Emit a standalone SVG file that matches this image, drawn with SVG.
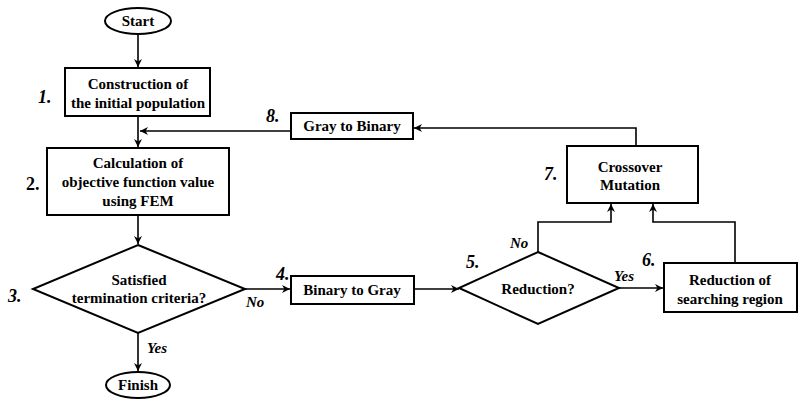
<svg xmlns="http://www.w3.org/2000/svg" width="799" height="399" viewBox="0 0 799 399" font-family="Liberation Serif, DejaVu Serif, serif" font-weight="bold">
<defs>
<marker id="arr" viewBox="0 0 10 10" refX="10" refY="5" markerWidth="8" markerHeight="8" orient="auto" markerUnits="userSpaceOnUse">
<path d="M0,0 L10,5 L0,10 L3,5 z" fill="#000"/>
</marker>
</defs>
<style>
.box{fill:#fff;stroke:#000;stroke-width:2}
.t{font-size:15px;text-anchor:middle}
.n{font-style:italic;font-size:18px}
.l{font-style:italic;font-size:15px}
.c{fill:none;stroke:#000;stroke-width:1.6}
</style>
<rect width="799" height="399" fill="#fff"/>
<g id="connectors">
<line class="c" x1="138" y1="34" x2="138" y2="67" marker-end="url(#arr)"/>
<line class="c" x1="138" y1="116" x2="138" y2="147" marker-end="url(#arr)"/>
<line class="c" x1="291" y1="131" x2="140" y2="131" marker-end="url(#arr)"/>
<line class="c" x1="138" y1="215" x2="138" y2="244" marker-end="url(#arr)"/>
<line class="c" x1="245" y1="289" x2="290" y2="289" marker-end="url(#arr)"/>
<line class="c" x1="414" y1="289" x2="459" y2="289" marker-end="url(#arr)"/>
<line class="c" x1="619" y1="288" x2="663" y2="288" marker-end="url(#arr)"/>
<polyline class="c" points="538,252 538,222 611,222 611,204" marker-end="url(#arr)"/>
<polyline class="c" points="735,262 735,222 653,222 653,204" marker-end="url(#arr)"/>
<polyline class="c" points="636,146 636,128 414,128" marker-end="url(#arr)"/>
<line class="c" x1="138" y1="333" x2="138" y2="371" marker-end="url(#arr)"/>
</g>
<g id="start">
<ellipse class="box" cx="138" cy="21" rx="33" ry="13"/>
<text class="t" x="138" y="26">Start</text>
</g>
<g id="n1">
<rect class="box" x="65" y="68" width="145" height="48"/>
<text class="t" x="138" y="89">Construction of</text>
<text class="t" x="138" y="108">the initial population</text>
<text class="n" x="38" y="103">1.</text>
</g>
<g id="n2">
<rect class="box" x="47" y="148" width="182" height="67"/>
<text class="t" x="138" y="168">Calculation of</text>
<text class="t" x="138" y="187">objective function value</text>
<text class="t" x="138" y="206">using FEM</text>
<text x="26" y="190" font-size="18">2.</text>
</g>
<g id="n3">
<polygon class="box" points="138,245 245,289 138,333 33,289"/>
<text class="t" x="139" y="285">Satisfied</text>
<text class="t" x="139" y="303">termination criteria?</text>
<text class="n" x="8" y="302">3.</text>
<text class="l" x="246" y="307">No</text>
<text class="l" x="147" y="353">Yes</text>
</g>
<g id="n4">
<rect class="box" x="291" y="276" width="123" height="28"/>
<text class="t" x="352" y="295">Binary to Gray</text>
<text class="n" x="276" y="280">4.</text>
</g>
<g id="n5">
<polygon class="box" points="538,252 619,288 538,324 459,288"/>
<text class="t" x="538" y="294">Reduction?</text>
<text class="n" x="466" y="268">5.</text>
<text class="l" x="510" y="248">No</text>
<text class="l" x="614" y="281">Yes</text>
</g>
<g id="n6">
<rect class="box" x="664" y="263" width="133" height="49"/>
<text class="t" x="730" y="285">Reduction of</text>
<text class="t" x="730" y="304">searching region</text>
<text class="n" x="642" y="266">6.</text>
</g>
<g id="n7">
<rect class="box" x="567" y="146" width="131" height="57"/>
<text class="t" x="630" y="172">Crossover</text>
<text class="t" x="630" y="190">Mutation</text>
<text class="n" x="544" y="180">7.</text>
</g>
<g id="n8">
<rect class="box" x="291" y="113" width="122" height="26"/>
<text class="t" x="352" y="131">Gray to Binary</text>
<text class="n" x="266" y="122">8.</text>
</g>
<g id="finish">
<ellipse class="box" cx="138" cy="385" rx="32" ry="13"/>
<text class="t" x="138" y="390">Finish</text>
</g>
</svg>
